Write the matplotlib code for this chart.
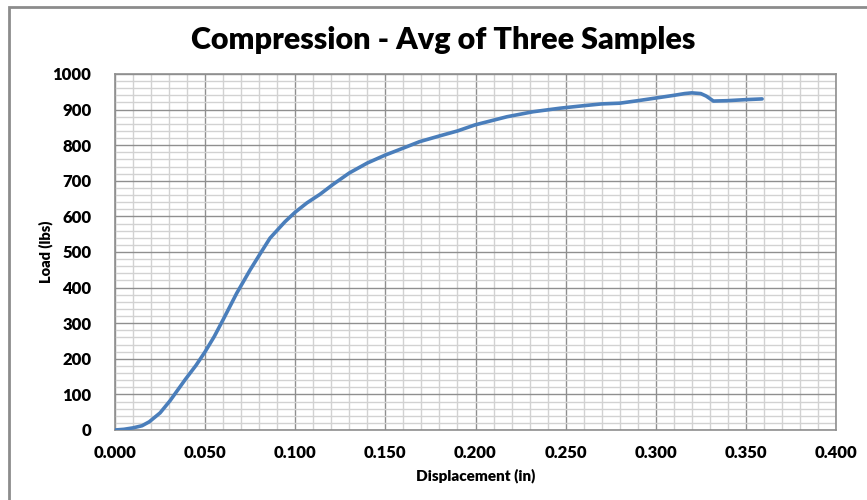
import matplotlib.pyplot as plt
from matplotlib.patches import Rectangle
from matplotlib.ticker import MultipleLocator, FormatStrFormatter

# averaged curve
displacement = [0.000, 0.005, 0.010, 0.015, 0.019, 0.025, 0.0305, 0.039, 0.045, 0.050,
                0.055, 0.060, 0.0675, 0.075, 0.0804, 0.086, 0.0943, 0.100, 0.1065, 0.1137,
                0.121, 0.130, 0.140, 0.1498, 0.160, 0.169, 0.180, 0.190, 0.1997, 0.2175,
                0.232, 0.247, 0.260, 0.270, 0.280, 0.290, 0.3007, 0.310, 0.316, 0.320,
                0.325, 0.328, 0.332, 0.3395, 0.350, 0.359]
load = [0, 2, 6, 12, 23, 48, 82, 142, 182, 220,
        262, 310, 384, 450, 494, 539, 585, 612, 638, 662,
        690, 722, 750, 772, 792, 810, 826, 840, 857, 880,
        894, 904, 911, 916, 918, 925, 933, 940, 945, 947,
        945, 938, 924, 925, 928, 930]

title = "Compression - Avg of Three Samples"
xlabel = "Displacement (in)"
ylabel = "Load (lbs)"

plt.rcParams['font.family'] = ['Lato', 'DejaVu Sans']

fig = plt.figure(figsize=(8.67, 5), dpi=100)

# chart frame (cut off on the right and bottom like the screenshot)
fig.patches.append(Rectangle((9 / 867, -0.1), 1.2, 1.1 - 7 / 500, transform=fig.transFigure,
                             fill=False, edgecolor='#8c8c8c', linewidth=2))

ax = fig.add_axes([115 / 867, 70 / 500, (836 - 115) / 867, (430 - 74) / 500])

ax.plot(displacement, load, color='#4a7ebb', linewidth=2.6, solid_capstyle='round', zorder=3)

ax.set_xlim(0, 0.4)
ax.set_ylim(0, 1000)
ax.xaxis.set_major_locator(MultipleLocator(0.05))
ax.xaxis.set_minor_locator(MultipleLocator(0.01))
ax.yaxis.set_major_locator(MultipleLocator(100))
ax.yaxis.set_minor_locator(MultipleLocator(20))
ax.xaxis.set_major_formatter(FormatStrFormatter('%.3f'))

ax.grid(which='major', color='#8f8f8f', linewidth=1)
ax.grid(which='minor', color='#d2d2d2', linewidth=1)
ax.set_axisbelow(True)

ax.tick_params(which='both', length=0)
ax.tick_params(axis='y', pad=17, labelsize=12)
ax.tick_params(axis='x', pad=11, labelsize=12)
for lbl in ax.get_xticklabels() + ax.get_yticklabels():
    lbl.set_fontweight('heavy')

for s in ax.spines.values():
    s.set_color('#8f8f8f')
    s.set_linewidth(1.2)

ax.set_xlabel(xlabel, fontsize=11, fontweight='heavy', labelpad=5)
ax.set_ylabel(ylabel, fontsize=10.5, fontweight='heavy', labelpad=0)
fig.text(443 / 867, 1 - 40 / 500, title, ha='center', va='center',
         fontsize=22, fontweight='heavy')

fig.savefig('out.png', dpi=100)
